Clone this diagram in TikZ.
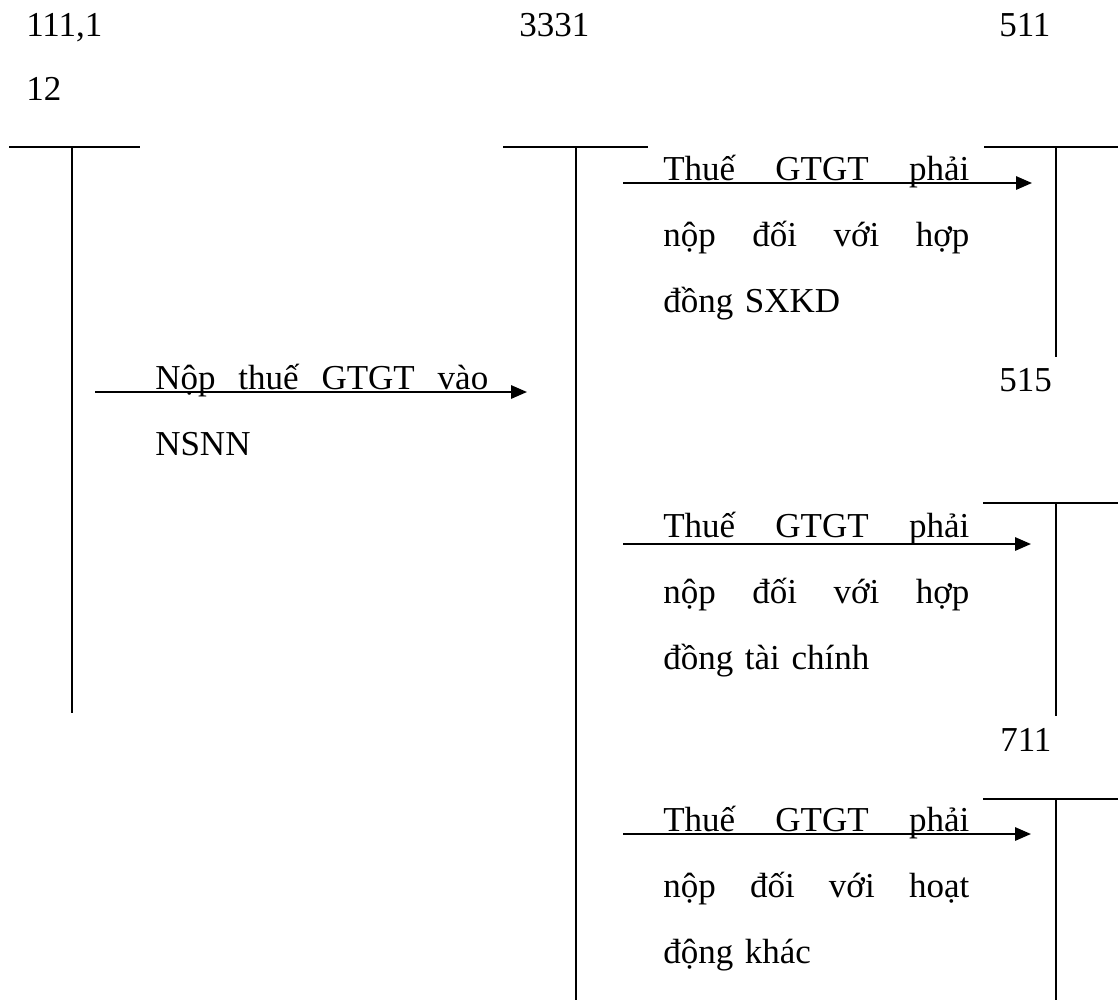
\documentclass[tikz,border=0pt]{standalone}
\usepackage{fontspec}
\setmainfont{Liberation Serif}
\usetikzlibrary{arrows.meta}
\newcommand{\jline}[2]{\leavevmode\hbox to #1{#2}}
\begin{document}
\begin{tikzpicture}[x=0.75pt,y=-0.75pt,
  acct/.style={line width=1.5pt},
  flow/.style={line width=1.5pt,-{Triangle[length=12pt,width=10pt]}},
  lbl/.style={inner sep=0pt,anchor=base west,font=\fontsize{26.25pt}{49.5pt}\selectfont},
  memo/.style={lbl,text width=260pt,align=left}]
\useasboundingbox (0,0) rectangle (1118,1000);

% account labels
\node[lbl,text width=60pt,align=left,font=\fontsize{26.25pt}{48pt}\selectfont] (n111) at (26,36) {111,1\\12};
\node[lbl] (n3331) at (519,36) {3331};
\node[lbl] (n511) at (999,36) {511};
\node[lbl] (n515) at (999,391) {515};
\node[lbl] (n711) at (1000,751) {711};

% T-account coordinates
\coordinate (a111l) at (9,147);   \coordinate (a111r) at (140,147);
\coordinate (a111t) at (72,147);  \coordinate (a111b) at (72,713);
\coordinate (a3331l) at (503,147); \coordinate (a3331r) at (648,147);
\coordinate (a3331t) at (576,147); \coordinate (a3331b) at (576,1000);
\coordinate (a511l) at (984,147);  \coordinate (a511r) at (1118,147);
\coordinate (a511t) at (1056,147); \coordinate (a511b) at (1056,357);
\coordinate (a515l) at (983,503);  \coordinate (a515r) at (1118,503);
\coordinate (a515t) at (1056,503); \coordinate (a515b) at (1056,716);
\coordinate (a711l) at (983,799);  \coordinate (a711r) at (1118,799);
\coordinate (a711t) at (1056,799); \coordinate (a711b) at (1056,1000);

\draw[acct] (a111l) -- (a111r) (a111t) -- (a111b);
\draw[acct] (a3331l) -- (a3331r) (a3331t) -- (a3331b);
\draw[acct] (a511l) -- (a511r) (a511t) -- (a511b);
\draw[acct] (a515l) -- (a515r) (a515t) -- (a515b);
\draw[acct] (a711l) -- (a711r) (a711t) -- (a711b);

% flows
\coordinate (f1s) at (95,392);  \coordinate (f1e) at (527,392);
\coordinate (f2s) at (623,183); \coordinate (f2e) at (1032,183);
\coordinate (f3s) at (623,544); \coordinate (f3e) at (1031,544);
\coordinate (f4s) at (623,834); \coordinate (f4e) at (1031,834);
\draw[flow] (f1s) -- (f1e);
\draw[flow] (f2s) -- (f2e);
\draw[flow] (f3s) -- (f3e);
\draw[flow] (f4s) -- (f4e);

% texts
\node[memo] (t1) at (155,389) {\jline{249.75pt}{Nộp\hfill thuế\hfill GTGT\hfill vào}\\NSNN};
\node[memo] (t2) at (663,180) {\jline{229.5pt}{Thuế\hfill GTGT\hfill phải}\\\jline{229.5pt}{nộp\hfill đối\hfill với\hfill hợp}\\đồng SXKD};
\node[memo] (t3) at (663,537) {\jline{229.5pt}{Thuế\hfill GTGT\hfill phải}\\\jline{229.5pt}{nộp\hfill đối\hfill với\hfill hợp}\\đồng tài chính};
\node[memo] (t4) at (663,831) {\jline{229.5pt}{Thuế\hfill GTGT\hfill phải}\\\jline{229.5pt}{nộp\hfill đối\hfill với\hfill hoạt}\\động khác};
\end{tikzpicture}
\end{document}
